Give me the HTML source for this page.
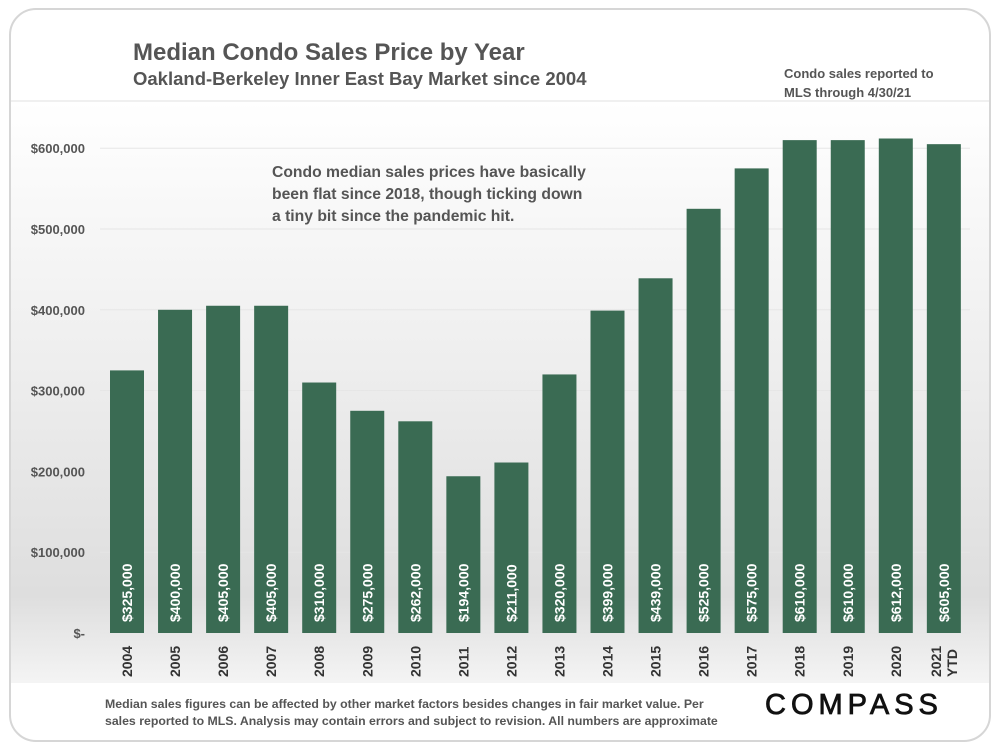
<!DOCTYPE html>
<html><head><meta charset="utf-8"><style>
body{margin:0;width:1000px;height:750px;background:#fff;font-family:"Liberation Sans",sans-serif;overflow:hidden}
</style></head><body>
<svg width="1000" height="750" xmlns="http://www.w3.org/2000/svg">
<defs>
<linearGradient id="bg" x1="0" y1="0" x2="0" y2="1">
<stop offset="0" stop-color="#ffffff"/><stop offset="0.5" stop-color="#ececec"/><stop offset="0.85" stop-color="#dedede"/><stop offset="1" stop-color="#f4f4f4"/>
</linearGradient>
</defs>
<rect x="10" y="9" width="980" height="732" rx="26" fill="#fff" stroke="#d6d6d6" stroke-width="2"/>
<rect x="11" y="101" width="978" height="582" fill="url(#bg)"/>
<line x1="11" x2="989" y1="101" y2="101" stroke="#e2e2e2"/>
<text x="133" y="60" font-size="24" font-weight="bold" fill="#555">Median Condo Sales Price by Year</text>
<text x="133" y="85" font-size="18.5" font-weight="bold" fill="#555">Oakland-Berkeley Inner East Bay Market since 2004</text>
<text x="784" y="78" font-size="13" font-weight="bold" fill="#555">Condo sales reported to</text>
<text x="784" y="97" font-size="13" font-weight="bold" fill="#555">MLS through 4/30/21</text>
<g font-size="15.7" font-weight="bold" fill="#555">
<text x="272" y="177">Condo median sales prices have basically</text>
<text x="272" y="199">been flat since 2018, though ticking down</text>
<text x="272" y="221">a tiny bit since the pandemic hit.</text>
</g>
<g id="axes"></g>
<g id="bars"></g>
<g font-size="12.3" font-weight="bold" fill="#555">
<text x="105" y="708">Median sales figures can be affected by other market factors besides changes in fair market value. Per</text>
<text x="105" y="725">sales reported to MLS. Analysis may contain errors and subject to revision. All numbers are approximate</text>
</g>
<text x="765" y="714" font-size="29" fill="#111" stroke="#111" stroke-width="0.8" letter-spacing="5">COMPASS</text>
</svg>
<script>
const categories=["2004","2005","2006","2007","2008","2009","2010","2011","2012","2013","2014","2015","2016","2017","2018","2019","2020","2021 YTD"];
const values=[325000,400000,405000,405000,310000,275000,262000,194000,211000,320000,399000,439000,525000,575000,610000,610000,612000,605000];
const valueLabels=["$325,000","$400,000","$405,000","$405,000","$310,000","$275,000","$262,000","$194,000","$211,000","$320,000","$399,000","$439,000","$525,000","$575,000","$610,000","$610,000","$612,000","$605,000"];
const yTicks=[0,100000,200000,300000,400000,500000,600000];
const yTickLabels=["$-","$100,000","$200,000","$300,000","$400,000","$500,000","$600,000"];
const NS="http://www.w3.org/2000/svg";
const y0=633,pxPer=0.000808;
function yScale(v){return y0-v*pxPer;}
function xCenter(i){return 127+i*48.05;}
const axes=document.getElementById('axes'),bars=document.getElementById('bars');
function mk(t,a){const e=document.createElementNS(NS,t);for(const k in a)e.setAttribute(k,a[k]);return e;}
yTicks.forEach((t,i)=>{
 const ln=mk('line',{x1:100,x2:970,y1:yScale(t),y2:yScale(t),stroke:'#e6e6e6','stroke-width':1});
 
 
 axes.appendChild(ln);
 const tx=mk('text',{x:85,y:yScale(t)+5,'text-anchor':'end','font-size':13,'font-weight':'bold',fill:'#555'});
 tx.textContent=yTickLabels[i];
 
 
 axes.appendChild(tx);
});
categories.forEach((c,i)=>{
 const cx=xCenter(i),top=yScale(values[i]);
 const r=mk('rect',{x:cx-17,y:top,width:34,height:y0-top,fill:'#3a6b53'});
 
 
 bars.appendChild(r);
 const vl=mk('text',{transform:`translate(${cx+5},622) rotate(-90)`,'font-size':14,'font-weight':'bold',fill:'#fff'});
 vl.textContent=valueLabels[i];
 
 
 bars.appendChild(vl);
 const parts=c.split(' ');
 parts.forEach((p,j)=>{
  const off=parts.length>1?(j===0?-3:13):5;
  const xl=mk('text',{transform:`translate(${cx+off},677) rotate(-90)`,'font-size':14,'font-weight':'bold',fill:'#333'});
  xl.textContent=p;
  
  
  bars.appendChild(xl);
 });
});
</script>
</body></html>
